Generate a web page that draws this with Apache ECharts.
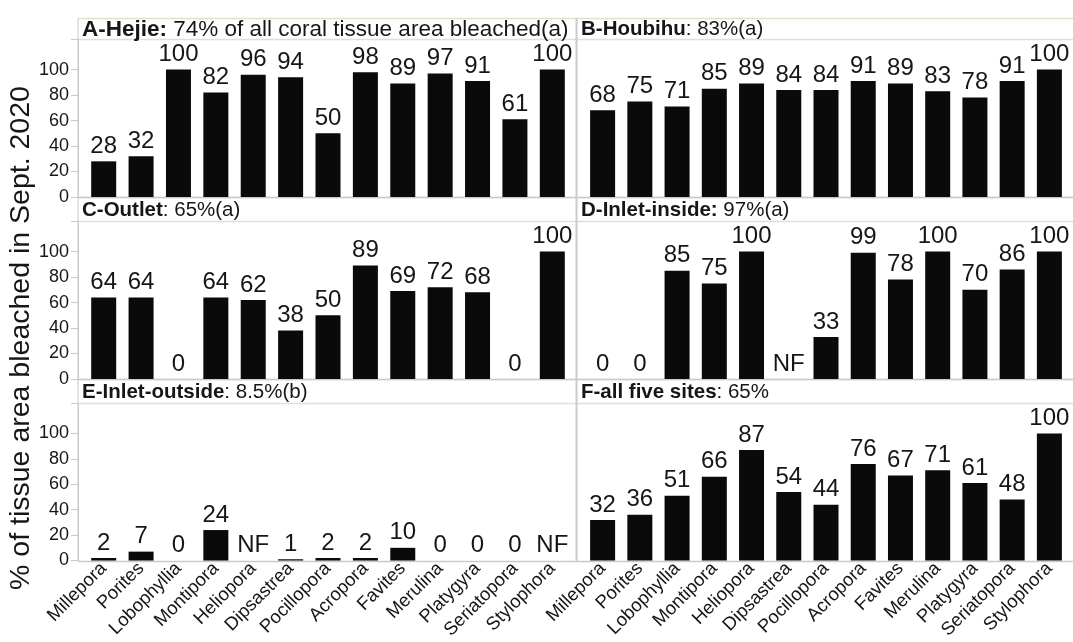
<!DOCTYPE html>
<html>
<head>
<meta charset="utf-8">
<title>Coral bleaching by genus and site, Sept. 2020</title>
<script src="https://cdn.jsdelivr.net/npm/echarts@6/dist/echarts.min.js"></script>
<style>
  html, body { margin: 0; padding: 0; background: #ffffff; }
  #chart { width: 1073px; height: 642px; }
</style>
</head>
<body>
<div id="chart"></div>
<script>
// Coral genera (x-axis categories, shared by all six panels)
const genera = ['Millepora', 'Porites', 'Lobophyllia', 'Montipora', 'Heliopora', 'Dipsastrea',
  'Pocillopora', 'Acropora', 'Favites', 'Merulina', 'Platygyra', 'Seriatopora', 'Stylophora'];

// % of tissue area bleached per genus; 'NF' = genus not found at the site
const hejie        = [28, 32, 100, 82, 96, 94, 50, 98, 89, 97, 91, 61, 100];
const houbihu      = [68, 75, 71, 85, 89, 84, 84, 91, 89, 83, 78, 91, 100];
const outlet       = [64, 64, 0, 64, 62, 38, 50, 89, 69, 72, 68, 0, 100];
const inletInside  = [0, 0, 85, 75, 100, 'NF', 33, 99, 78, 100, 70, 86, 100];
const inletOutside = [2, 7, 0, 24, 'NF', 1, 2, 2, 10, 0, 0, 0, 'NF'];
const allSites     = [32, 36, 51, 66, 87, 54, 44, 76, 67, 71, 61, 48, 100];

// Panel headings: bold part + regular part
const headings = [
  ['A-Hejie:', ' 74% of all coral tissue area bleached(a)'],
  ['B-Houbihu', ': 83%(a)'],
  ['C-Outlet', ': 65%(a)'],
  ['D-Inlet-inside:', ' 97%(a)'],
  ['E-Inlet-outside', ': 8.5%(b)'],
  ['F-all five sites', ': 65%']
];

const yTicks = [0, 20, 40, 60, 80, 100];
const yMax = 124;
const yTitle = '% of tissue area bleached in Sept. 2020';

// Panel order: A, B, C, D, E, F (left/right, top to bottom)
const panelData = [hejie, houbihu, outlet, inletInside, inletOutside, allSites];

const FONT = '"Liberation Sans", Arial, sans-serif';
const INK = '#161616';
const BAR = '#0a0a0a';
const FRAME = '#e3e0d2';
const AXIS = '#cacaca';

const rowTop = [39, 221, 403];
const rowH = 158;
const headTop = [18, 197, 379];
const colLeft = [85, 584];
const colW = [486, 484];

const grids = [], xAxes = [], yAxes = [], series = [];

panelData.forEach((vals, i) => {
  const col = i % 2, row = Math.floor(i / 2);
  grids.push({ left: colLeft[col], top: rowTop[row], width: colW[col], height: rowH, containLabel: false });
  xAxes.push({
    type: 'category', gridIndex: i, data: genera,
    axisLine: { show: false }, axisTick: { show: false },
    axisLabel: {
      show: row === 2, interval: 0, rotate: 45, margin: 5,
      fontFamily: FONT, fontSize: 18.5, color: INK
    }
  });
  yAxes.push({
    type: 'value', gridIndex: i, min: 0, max: yMax, interval: 20,
    show: col === 0, offset: 7,
    splitLine: { show: false },
    axisLine: { show: true, lineStyle: { color: AXIS, width: 1 } },
    axisTick: { show: true, length: 7, lineStyle: { color: AXIS }, customValues: yTicks.concat([yMax]) },
    axisLabel: { fontFamily: FONT, fontSize: 18, color: INK, margin: 9, customValues: yTicks }
  });
  series.push({
    type: 'bar', xAxisIndex: i, yAxisIndex: i, barWidth: 25,
    itemStyle: { color: BAR },
    label: { show: true, position: 'top', distance: 3, fontFamily: FONT, fontSize: 24, color: INK },
    data: vals.map(v => v === 'NF'
      ? { value: 0, label: { formatter: 'NF' } }
      : v)
  });
});

// Frame, header rows and panel dividers
const graphics = [];
const hLine = (y, color, x1 = 78, x2 = 1073) => graphics.push({
  type: 'line', silent: true,
  shape: { x1: x1, y1: y, x2: x2, y2: y },
  style: { stroke: color, lineWidth: 1.5 }
});
headTop.forEach(y => hLine(y + 0.5, FRAME));
rowTop.forEach(y => hLine(y + 0.5, FRAME));
[197, 379, 561].forEach(y => hLine(y + 0.5, AXIS));
graphics.push({
  type: 'line', silent: true,
  shape: { x1: 576.5, y1: 18, x2: 576.5, y2: 561 },
  style: { stroke: AXIS, lineWidth: 2 }
});
graphics.push({
  type: 'line', silent: true,
  shape: { x1: 78, y1: 18, x2: 78, y2: 561 },
  style: { stroke: AXIS, lineWidth: 1 }
});

headings.forEach((h, i) => {
  const col = i % 2, row = Math.floor(i / 2);
  const size = i === 0 ? 22.5 : 20.5;
  graphics.push({
    type: 'text', silent: true,
    x: col === 0 ? 82 : 581,
    y: (headTop[row] + rowTop[row]) / 2 + 1,
    style: {
      text: '{b|' + h[0] + '}{n|' + h[1] + '}',
      verticalAlign: 'middle',
      rich: {
        b: { fontFamily: FONT, fontSize: size, fontWeight: 'bold', fill: INK },
        n: { fontFamily: FONT, fontSize: size, fill: INK }
      }
    }
  });
});

graphics.push({
  type: 'text', silent: true, x: 21, y: 338, rotation: Math.PI / 2,
  style: {
    text: yTitle, fontFamily: FONT, fontSize: 28.5, fill: INK,
    align: 'center', verticalAlign: 'middle'
  }
});

const chart = echarts.init(document.getElementById('chart'), null, { renderer: 'canvas' });
chart.setOption({
  animation: false,
  backgroundColor: '#ffffff',
  grid: grids,
  xAxis: xAxes,
  yAxis: yAxes,
  series: series,
  graphic: graphics
});
</script>
</body>
</html>
